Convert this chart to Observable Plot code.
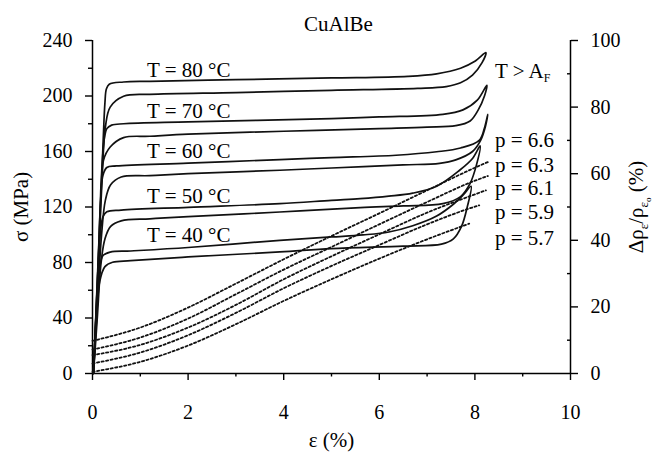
<!DOCTYPE html>
<html><head><meta charset="utf-8">
<script src="https://cdn.jsdelivr.net/npm/d3@7"></script>
<script src="https://cdn.jsdelivr.net/npm/@observablehq/plot@0.6"></script>
<style>
body{margin:0;background:#fff;}
#chart{position:relative;width:654px;height:454px;}
#chart svg{position:absolute;left:0;top:0;}
#chart svg text{font-family:"Liberation Serif","Times New Roman",Times,"DejaVu Serif",serif;}
</style></head><body><div id="chart"></div>
<script>
// stress–strain loops [strain %, stress MPa]: loading then unloading
const loop80 = [[0.02,0],[0.145,100],[0.22,165],[0.26,195],[0.29,205],[0.35,208.5],[0.65,210.1],[1.2,210.6],[3,211.8],[5,213],[6.6,214.2],[7.2,216],[7.7,220],[8.0,225],[8.23,231.3],
  [8.15,224],[7.95,215],[7.7,209.5],[7.4,206.8],[6.8,205.5],[5,204.1],[3,202.5],[1.2,201.2],[0.65,199.8],[0.37,192],[0.27,177.6],[0.2,140],[0.12,80],[0.02,0]];
const loop70 = [[0.02,0],[0.14,100],[0.2,150],[0.25,170],[0.3,176.5],[0.4,179],[0.65,180],[2,181.3],[5,183.7],[6,184.9],[7.33,186.8],[7.75,190],[8.05,197],[8.25,207.7],
  [8.2,200],[8.07,190],[7.9,182],[7.6,178.6],[7.0,177.5],[6,176.5],[4,174.6],[2,172.5],[1.2,171],[0.65,170],[0.37,163.2],[0.23,153.6],[0.15,100],[0.08,45],[0.02,0]];
const loop60 = [[0.02,0],[0.12,80],[0.17,125],[0.22,143],[0.3,148.5],[0.5,149.6],[2,151.6],[3.92,154.2],[5,155.6],[6.35,157.3],[7.2,159.8],[7.7,162.5],[8.09,168],[8.2,177],[8.27,186.8],
  [8.22,178],[8.12,168],[7.95,160],[7.6,154],[7.26,151.5],[6.5,150.3],[5,148.1],[3.92,146.5],[2,144],[1.2,142.6],[0.6,141.6],[0.38,136],[0.27,125],[0.19,100],[0.1,50],[0.02,0]];
const loop50 = [[0.02,0],[0.1,55],[0.16,100],[0.22,113],[0.3,116.5],[0.6,117.8],[2,119.8],[3.92,122.4],[5,124.8],[5.6,126],[6.2,127.8],[6.7,130],[7.2,135],[7.68,146.5],[7.95,155],[8.11,164],
  [8.03,150],[7.9,137],[7.7,127.5],[7.33,122.4],[6.5,120.8],[5.6,119.6],[3.92,116.4],[2,113],[1.2,111.5],[0.6,110],[0.38,106],[0.26,97],[0.18,80],[0.1,40],[0.02,0]];
const loop40 = [[0.02,0],[0.09,50],[0.15,76],[0.22,85],[0.37,87.5],[0.8,88.3],[2,90.8],[3.92,96],[5,98.4],[5.66,99.9],[6.2,102],[6.7,106.5],[7.2,113.5],[7.55,122],[7.75,128.5],[7.92,134.9],
  [7.84,120],[7.72,106],[7.55,97],[7.3,93.2],[6.5,91.8],[5,90],[3.92,87.6],[2,84],[0.8,81.3],[0.42,80.2],[0.26,77],[0.15,66],[0.07,30],[0.02,0]];

// resistivity change curves [strain %, Δρ/ρ %]
const dot66 = [[0,9.8],[1,13.8],[2,19.8],[3,27],[4,34.3],[5,41.3],[6,48.1],[7,55],[8,61.8],[8.27,63.5]];
const dot63 = [[0,7.2],[1,10.8],[2,16.5],[3,23.8],[4,31.2],[5,38],[6,44.8],[7,51.5],[8,57.9],[8.27,59.3]];
const dot61 = [[0,5.5],[1,8.6],[2,13.8],[3,20.6],[4,28.3],[5,35.2],[6,41.8],[7,48.3],[8,53.8],[8.23,55]];
const dot59 = [[0,3.0],[1,6.3],[2,11.5],[3,18.2],[4,25.6],[5,32.3],[6,38.6],[7,44.8],[8,50.1],[8.09,50.5]];
const dot57 = [[0,0.5],[1,3.5],[2,8.4],[3,14.8],[4,21.8],[5,28.3],[6,34.5],[7,40.3],[7.88,45]];

const tempNames = ["T = 80 °C","T = 70 °C","T = 60 °C","T = 50 °C","T = 40 °C"];
const pNames = ["p = 6.6","p = 6.3","p = 6.1","p = 5.9","p = 5.7"];
const strainTicks = [0,2,4,6,8,10];
const strainMinor = [1,3,5,7,9];
const stressTicks = [0,40,80,120,160,200,240];
const stressMinor = [20,60,100,140,180,220];
const pctTicks = [0,20,40,60,80,100];
const pctMinor = [10,30,50,70,90];

// label anchors (data coordinates)
const tempLabelX = 1.14;
const tempLabelY = [213.4,183.8,155.6,123.2,94.8];
const sideLabelX = 8.42;
const pLabelY = [68,60.5,53.5,46.5,38.5];

const loopTable = [loop80,loop70,loop60,loop50,loop40].flatMap((pts,i) => pts.map(([e,s]) => ({t: tempNames[i], e, s})));
const dotTable = [dot66,dot63,dot61,dot59,dot57].flatMap((pts,i) => pts.map(([e,r]) => ({p: pNames[i], e, r})));
const tempLabels = tempNames.map((n,i) => ({n, x: tempLabelX, y: tempLabelY[i]}));
const pLabels = pNames.map((n,i) => ({n, x: sideLabelX, y: pLabelY[i]}));

const FONT = "Liberation Serif";
const STYLE = "font-family: 'Liberation Serif', serif; font-size: 20px; color: #000; background: transparent;";
const common = {width: 654, height: 454, marginLeft: 92, marginRight: 84, marginTop: 40, marginBottom: 81};

const main = Plot.plot({
  ...common,
  x: {domain: [0,10], label: null},
  y: {domain: [0,240], label: null},
  style: STYLE,
  marks: [
    Plot.axisX({ticks: strainTicks, tickSize: 7, tickPadding: 24, label: null, strokeWidth: 1.4, fontFamily: FONT, fontSize: 20}),
    Plot.axisX({ticks: strainMinor, tickSize: 3.5, tickFormat: () => "", label: null, strokeWidth: 1.4}),
    Plot.axisY({ticks: stressTicks, tickSize: 7, tickPadding: 13, label: null, strokeWidth: 1.4, fontFamily: FONT, fontSize: 20}),
    Plot.axisY({ticks: stressMinor, tickSize: 4, tickFormat: () => "", label: null, strokeWidth: 1.4}),
    Plot.ruleY([0], {strokeWidth: 1.5}),
    Plot.ruleX([0], {strokeWidth: 1.5}),
    Plot.ruleX([10], {strokeWidth: 1.5}),
    Plot.line(loopTable, {x: "e", y: "s", z: "t", curve: "catmull-rom", stroke: "#111", strokeWidth: 1.7}),
    Plot.text(tempLabels, {x: "x", y: "y", text: "n", textAnchor: "start", lineAnchor: "bottom", fontSize: 21, fontFamily: FONT}),
    Plot.text(["T > A"], {x: sideLabelX, y: 212.7, textAnchor: "start", lineAnchor: "bottom", fontSize: 21, fontFamily: FONT}),
    Plot.text(["CuAlBe"], {frameAnchor: "top", dx: 7, dy: -16, textAnchor: "middle", lineAnchor: "middle", fontSize: 21, fontFamily: FONT}),
    Plot.text(["ε (%)"], {frameAnchor: "bottom", dy: 67, textAnchor: "middle", lineAnchor: "middle", fontSize: 21, fontFamily: FONT}),
    Plot.text(["σ (MPa)"], {frameAnchor: "left", dx: -71, rotate: -90, textAnchor: "middle", lineAnchor: "middle", fontSize: 21, fontFamily: FONT})
  ]
});

const over = Plot.plot({
  ...common,
  x: {domain: [0,10], axis: null, label: null},
  y: {domain: [0,100], label: null},
  style: STYLE,
  marks: [
    Plot.axisY({anchor: "right", ticks: pctTicks, tickSize: 7, tickPadding: 13, label: null, strokeWidth: 1.4, fontFamily: FONT, fontSize: 20}),
    Plot.axisY({anchor: "right", ticks: pctMinor, tickSize: -4, tickFormat: () => "", label: null, strokeWidth: 1.4}),
    Plot.line(dotTable, {x: "e", y: "r", z: "p", curve: "monotone-x", stroke: "#111", strokeWidth: 1.8, strokeDasharray: "2.2,2.4"}),
    Plot.text(pLabels, {x: "x", y: "y", text: "n", textAnchor: "start", lineAnchor: "bottom", fontSize: 21, fontFamily: FONT}),
    Plot.text(["Δρε/ρε0 (%)"], {frameAnchor: "right", dx: 66, rotate: -90, textAnchor: "middle", lineAnchor: "middle", fontSize: 21, fontFamily: FONT})
  ]
});

// subscripts
d3.select(main).selectAll("text").filter(function(){ return this.textContent === "T > A"; })
  .each(function(){ d3.select(this).append("tspan").attr("font-size", 12).attr("dy", 4).text("F"); });
d3.select(over).selectAll("text").filter(function(){ return this.textContent === "Δρε/ρε0 (%)"; })
  .each(function(){
    const t = d3.select(this); t.text(null);
    t.append("tspan").text("Δρ");
    t.append("tspan").attr("font-size", 13).attr("dy", 5).text("ε");
    t.append("tspan").attr("dy", -5).text("/ρ");
    t.append("tspan").attr("font-size", 13).attr("dy", 5).text("ε");
    t.append("tspan").attr("font-size", 9).attr("dy", 3).text("o");
    t.append("tspan").attr("dy", -8).text(" (%)");
  });

const chart = document.getElementById("chart");
chart.appendChild(main);
chart.appendChild(over);
</script></body></html>
